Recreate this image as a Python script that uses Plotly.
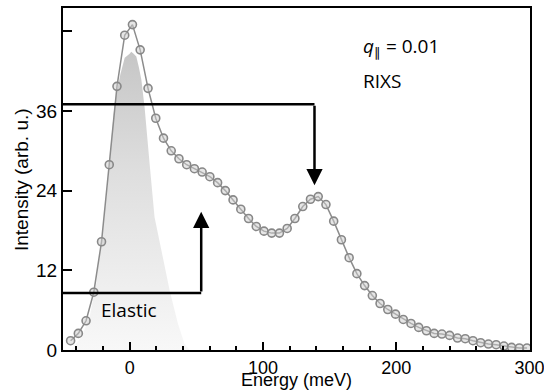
import plotly.graph_objects as go

# RIXS spectrum (energy in meV, intensity in arb. u.)
energy = [-44.3, -38.5, -32.7, -26.9, -21.1, -15.3, -9.5, -3.7, 2.1, 7.9,
          13.8, 19.6, 25.4, 31.2, 37.0, 42.8, 48.6, 54.4, 60.2, 66.0,
          71.8, 77.6, 83.4, 89.2, 95.0, 100.8, 106.6, 112.4, 118.2, 124.0,
          129.9, 135.7, 141.5, 147.3, 153.1, 158.9, 164.7, 170.5, 176.3, 182.1,
          187.9, 193.7, 199.5, 205.3, 211.1, 216.9, 222.7, 228.5, 234.3, 240.1,
          246.0, 251.8, 257.6, 263.4, 269.2, 275.0, 280.8, 286.6, 292.4, 298.2]
intensity = [1.4, 2.5, 4.4, 8.7, 16.3, 27.9, 39.7, 47.4, 49.0, 45.2,
             39.4, 34.9, 31.9, 30.0, 28.8, 27.9, 27.3, 26.8, 26.1, 25.2,
             24.0, 22.6, 21.2, 19.8, 18.6, 17.9, 17.6, 17.6, 18.3, 19.8,
             21.6, 22.7, 23.1, 21.9, 19.4, 16.6, 13.9, 11.5, 9.7, 8.2,
             7.0, 6.1, 5.4, 4.6, 4.0, 3.4, 2.9, 2.5, 2.4, 2.2,
             1.8, 1.7, 1.4, 1.1, 0.9, 0.8, 0.6, 0.4, 0.3, 0.3]

# Elastic line outline (shaded)
elastic_x = [-44, -36, -30, -25, -21, -17, -14.5, -11.2, -7, -3.7, 0, 1.2, 3, 5, 7,
             8.8, 11.2, 13.7, 15, 18.7, 23.8, 30, 36.2, 41.2, 45]
elastic_y = [0, 2, 5, 10, 17, 24, 30, 37.2, 41.5, 44, 44.6, 44.9, 44.6, 44.2, 42.5,
             40.7, 36.6, 30.1, 28, 20, 15, 9, 4, 0.9, 0]

# Arrow guides: (horizontal level, end x, arrow tip y)
arrow_rixs = dict(level=37.0, x=138.7, tip=24.8)
arrow_elastic = dict(level=8.57, x=53.7, tip=20.8)

x_range = [-50, 300.4]
y_range = [0, 51.5]
y_ticks = [0, 12, 24, 36, 48]
y_ticktext = ["0", "12", "24", "36", ""]
x_ticks = [0, 100, 200, 300]
x_title = "Energy (meV)"
y_title = "Intensity (arb. u.)"

W, H = 544, 391
ML, MR, MT, MB = 63, 14, 8, 41

fig = go.Figure()

fig.add_trace(go.Scatter(
    x=elastic_x + [elastic_x[0]], y=elastic_y + [elastic_y[0]],
    mode="lines", fill="toself", line=dict(width=0),
    fillgradient=dict(type="vertical",
                      colorscale=[[0, "#f8f8f8"], [0.6, "#dedede"], [1, "#c6c6c6"]]),
    hoverinfo="skip", showlegend=False))

fig.add_trace(go.Scatter(
    x=energy, y=intensity, mode="lines+markers",
    line=dict(color="#8c8c8c", width=1.5),
    marker=dict(symbol="circle", size=8, color="rgba(205,205,205,0.5)",
                line=dict(color="#888888", width=1.6)),
    showlegend=False))

for a in (arrow_rixs, arrow_elastic):
    fig.add_shape(type="line", xref="x", yref="y",
                  x0=x_range[0], x1=a["x"], y0=a["level"], y1=a["level"],
                  line=dict(color="black", width=2.5))
    fig.add_annotation(x=a["x"], y=a["tip"], ax=a["x"], ay=a["level"],
                       xref="x", yref="y", axref="x", ayref="y",
                       text="", showarrow=True, arrowhead=2, arrowsize=1.3,
                       arrowwidth=2.5, arrowcolor="black", standoff=0)

fig.add_annotation(x=(99 - 130) / 1.3335, y=(349.5 - 310) / 6.625, xref="x", yref="y",
                   text="Elastic", showarrow=False, xanchor="left", yanchor="middle",
                   font=dict(family="Open Sans", size=19, color="black"))
fig.add_annotation(x=(361 - 130) / 1.3335, y=(349.5 - 47) / 6.625, xref="x", yref="y",
                   text="<i>q</i><sub>∥</sub> = 0.01", showarrow=False,
                   xanchor="left", yanchor="middle",
                   font=dict(family="Open Sans", size=19, color="black"))
fig.add_annotation(x=(361 - 130) / 1.3335, y=(349.5 - 81) / 6.625, xref="x", yref="y",
                   text="RIXS", showarrow=False, xanchor="left", yanchor="middle",
                   font=dict(family="Open Sans", size=19, color="black"))

# axis titles placed in paper coordinates
pw, ph = W - ML - MR, H - MT - MB
fig.add_annotation(xref="paper", yref="paper", x=(296 - ML) / pw, y=(H - MB - 379.5) / ph,
                   text=x_title, showarrow=False, xanchor="center", yanchor="middle",
                   font=dict(family="Liberation Sans", size=18, color="black"))
fig.add_annotation(xref="paper", yref="paper", x=(21 - ML) / pw, y=(H - MB - 180) / ph,
                   text=y_title, showarrow=False, xanchor="center", yanchor="middle",
                   textangle=-90,
                   font=dict(family="Liberation Sans", size=19, color="black"))

fig.update_xaxes(range=x_range, tickvals=x_ticks, ticks="inside", ticklen=8, tickwidth=2,
                 tickcolor="black", showline=True, linecolor="black", linewidth=2,
                 mirror=True, showgrid=False, zeroline=False, ticklabeloverflow="allow",
                 automargin=False,
                 minor=dict(dtick=20, tick0=0, ticks="inside", ticklen=4, tickwidth=2,
                            tickcolor="black", showgrid=False),
                 tickfont=dict(family="Liberation Sans", size=18, color="black"))
fig.update_yaxes(range=y_range, tickvals=y_ticks, ticktext=y_ticktext, ticks="inside",
                 ticklen=9, tickwidth=2, tickcolor="black", showline=True,
                 linecolor="black", linewidth=2, mirror=True, showgrid=False,
                 zeroline=False, ticklabeloverflow="allow", automargin=False,
                 tickfont=dict(family="Liberation Sans", size=19, color="black"))

fig.update_layout(width=W, height=H, plot_bgcolor="white", paper_bgcolor="white",
                  margin=dict(l=ML, r=MR, t=MT, b=MB), showlegend=False)

fig.write_html("out.html", config={"displayModeBar": False},
               post_script="document.body.style.margin='0px';document.body.style.overflow='hidden';")
